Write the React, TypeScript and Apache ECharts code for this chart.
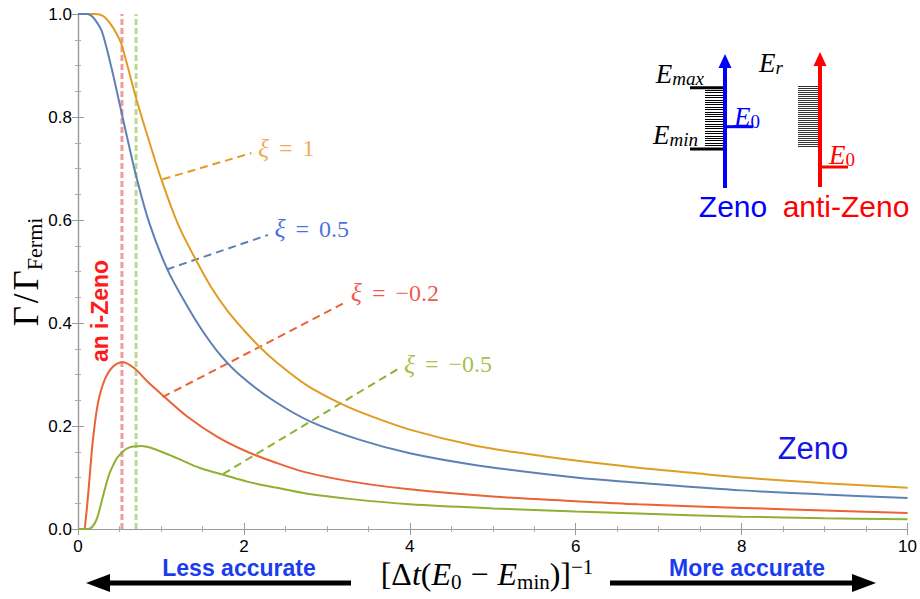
import React, { useEffect, useRef } from "react";
import * as echarts from "echarts";

// ---------- data ----------
const X_MIN = 0;
const X_MAX = 10;
const X_INTERVAL = 2;
const Y_MIN = 0;
const Y_MAX = 1;
const Y_INTERVAL = 0.2;

// Γ/Γ_Fermi for ξ = 1
const CURVE_XI_1: number[][] = [
  [0, 1], [0.1, 1], [0.2, 1], [0.26, 0.999], [0.32, 0.994], [0.4, 0.979], [0.46, 0.963],
  [0.52, 0.943], [0.6, 0.897], [0.7, 0.837], [0.84, 0.762], [1.0, 0.681], [1.2, 0.594],
  [1.4, 0.529], [1.6, 0.471], [1.8, 0.424], [2.0, 0.386], [2.2, 0.352], [2.4, 0.323],
  [2.75, 0.28], [3.15, 0.245], [3.5, 0.221], [4.0, 0.193], [4.75, 0.163], [5.4, 0.146],
  [6.0, 0.133], [6.75, 0.119], [7.4, 0.109], [8.0, 0.1], [9.0, 0.089], [10, 0.08],
];
// ξ = 0.5
const CURVE_XI_05: number[][] = [
  [0, 1], [0.1, 1], [0.15, 0.998], [0.2, 0.99], [0.28, 0.969], [0.34, 0.937], [0.4, 0.898],
  [0.46, 0.856], [0.52, 0.812], [0.6, 0.755], [0.7, 0.686], [0.86, 0.594], [1.08, 0.503],
  [1.32, 0.432], [1.5, 0.385], [1.72, 0.337], [1.95, 0.299], [2.35, 0.25], [2.81, 0.208],
  [3.4, 0.173], [4.0, 0.147], [4.8, 0.124], [6.0, 0.1], [6.75, 0.09], [8.0, 0.075],
  [9.0, 0.067], [10, 0.06],
];
// ξ = -0.2
const CURVE_XI_M02: number[][] = [
  [0, 0], [0.07, 0], [0.09, 0.015], [0.12, 0.063], [0.15, 0.12], [0.18, 0.173], [0.24, 0.244],
  [0.32, 0.289], [0.42, 0.315], [0.54, 0.324], [0.68, 0.312], [0.84, 0.286], [1.04, 0.257],
  [1.32, 0.218], [1.68, 0.179], [2.04, 0.15], [2.4, 0.128], [2.75, 0.11], [3.3, 0.092],
  [4.0, 0.077], [5.0, 0.063], [6.0, 0.054], [6.75, 0.048], [8.0, 0.041], [9.0, 0.036], [10, 0.031],
];
// ξ = -0.5
const CURVE_XI_M05: number[][] = [
  [0, 0], [0.12, 0], [0.17, 0.004], [0.22, 0.017], [0.26, 0.038], [0.3, 0.063], [0.34, 0.087],
  [0.38, 0.108], [0.43, 0.126], [0.48, 0.14], [0.6, 0.157], [0.76, 0.161], [0.96, 0.153],
  [1.2, 0.137], [1.48, 0.118], [1.76, 0.105], [2.04, 0.092], [2.4, 0.08], [2.75, 0.069],
  [3.3, 0.058], [4.0, 0.048], [5.0, 0.04], [6.0, 0.034], [6.75, 0.03], [8.0, 0.024],
  [9.0, 0.021], [10, 0.019],
];

// leader lines (data coordinates) and their labels
const LEADER_XI_1: number[][] = [[1.02, 0.679], [2.09, 0.73]];
const LEADER_XI_05: number[][] = [[1.07, 0.504], [2.29, 0.571]];
const LEADER_XI_M02: number[][] = [[1.02, 0.256], [3.21, 0.439]];
const LEADER_XI_M05: number[][] = [[1.75, 0.107], [3.85, 0.31]];
const XI_VALUES = ["1", "0.5", "−0.2", "−0.5"];

// vertical markers (peak positions)
const MARKER_X = [0.53, 0.7];

// ---------- styles ----------
const CURVE_COLORS = ["#E19C24", "#5E81B5", "#EB6235", "#8FB032"];
const LABEL_COLORS = ["#F0902C", "#1848E0", "#EE2B1B", "#92AE12"];
const MARKER_COLORS = ["#F29A9A", "#BADA92"];
const LABEL_OFFSETS = [[0, -5], [0, -6], [0, -10], [0, -5]];
const SERIF = "'Liberation Serif', 'DejaVu Serif', serif";
const SANS = "'Liberation Sans', Arial, sans-serif";

function hatch(x1: number, x2: number, y1: number, y2: number, step: number, color: string, w: number) {
  const out: any[] = [];
  for (let y = y1; y <= y2; y += step) {
    const yy = Math.round(y) + 0.5;
    out.push({
      type: "line",
      shape: { x1, y1: yy, x2, y2: yy },
      style: { stroke: color, lineWidth: w },
      silent: true,
    });
  }
  return out;
}

function txt(x: number, y: number, text: string, opts: any, rich?: any, rotation = 0) {
  const align = opts.align || "center";
  const va = opts.verticalAlign || "middle";
  return {
    type: "text",
    x,
    y,
    rotation,
    silent: true,
    style: {
      text,
      fill: opts.fill || "#000",
      fontSize: opts.fontSize || 16,
      fontFamily: opts.fontFamily || SANS,
      fontWeight: opts.fontWeight || "normal",
      fontStyle: opts.fontStyle || "normal",
      lineHeight: opts.lineHeight,
      align,
      verticalAlign: va,
      textAlign: align,
      textVerticalAlign: va,
      rich,
    },
  };
}

function eRich(color: string, subItalic: boolean) {
  return {
    e: { fontFamily: SERIF, fontStyle: "italic", fontSize: 27, lineHeight: 28, color },
    s: { fontFamily: SERIF, fontStyle: subItalic ? "italic" : "normal", fontSize: 19, lineHeight: 18, verticalAlign: "bottom", color },
  };
}

export default function App() {
  const ref = useRef<HTMLDivElement>(null);

  useEffect(() => {
    if (!ref.current) return;
    const chart = echarts.init(ref.current, undefined, { renderer: "svg" });

    const curves = [CURVE_XI_1, CURVE_XI_05, CURVE_XI_M02, CURVE_XI_M05];
    const leaders = [LEADER_XI_1, LEADER_XI_05, LEADER_XI_M02, LEADER_XI_M05];

    const axisCommon = {
      axisLine: { show: true, lineStyle: { color: "#999", width: 1.2 } },
      axisTick: { show: true, inside: true, length: 6, lineStyle: { color: "#999", width: 1 } },
      minorTick: { show: true, splitNumber: 4, length: 3, lineStyle: { color: "#aaa", width: 1 } },
      splitLine: { show: false },
    };

    const series: any[] = [];
    MARKER_X.forEach((mx, i) => {
      series.push({
        type: "line",
        data: [[mx, Y_MIN], [mx, Y_MAX]],
        symbol: "none",
        z: 1,
        silent: true,
        lineStyle: { color: MARKER_COLORS[i], width: 3, type: [6, 3] },
      });
    });
    leaders.forEach((ld, i) => {
      series.push({
        type: "line",
        data: ld,
        symbol: "none",
        z: 2,
        silent: true,
        lineStyle: { color: CURVE_COLORS[i], width: 2, type: [8, 5] },
      });
      series.push({
        type: "scatter",
        data: [ld[1]],
        symbolSize: 1,
        z: 4,
        silent: true,
        itemStyle: { color: "rgba(0,0,0,0)" },
        label: {
          show: true,
          position: "right",
          distance: 6,
          offset: LABEL_OFFSETS[i],
          formatter: "{i|ξ}{e|=}{n|" + XI_VALUES[i] + "}",
          rich: {
            i: { fontFamily: SERIF, fontStyle: "italic", fontSize: 26, color: LABEL_COLORS[i] },
            e: { fontFamily: SERIF, fontSize: 24, color: LABEL_COLORS[i], padding: [0, 10, 0, 10] },
            n: { fontFamily: SERIF, fontSize: 24, color: LABEL_COLORS[i] },
          },
        },
      });
    });
    curves.forEach((c, i) => {
      series.push({
        type: "line",
        data: c,
        symbol: "none",
        smooth: 0.35,
        z: 3,
        silent: true,
        lineStyle: { color: CURVE_COLORS[i], width: 2 },
      });
    });

    const graphicEls: any[] = [
      // y-axis title
      txt(26, 272, "{g|Γ}{n|/}{g|Γ}{s|Fermi}", { fontFamily: SERIF, fontSize: 34 }, {
        g: { fontFamily: SERIF, fontSize: 35, lineHeight: 38, verticalAlign: "middle" },
        n: { fontFamily: SERIF, fontSize: 35, lineHeight: 38, verticalAlign: "middle", padding: [0, 3, 0, 3] },
        s: { fontFamily: SERIF, fontSize: 22, lineHeight: 24, verticalAlign: "bottom" },
      }, Math.PI / 2),
      // an i-Zeno
      txt(100, 311, "an i-Zeno", { fill: "#FF1A1A", fontSize: 23, fontWeight: "bold" }, undefined, Math.PI / 2),
      // x-axis title
      txt(487, 574, "{n|[Δ}{i|t}{n|(}{i|E}{s|0}{m|−}{i|E}{s|min}{n|)]}{p|−1}", { fontFamily: SERIF, fontSize: 32 }, {
        n: { fontFamily: SERIF, fontSize: 32, lineHeight: 36 },
        m: { fontFamily: SERIF, fontSize: 32, lineHeight: 36, padding: [0, 9, 0, 9] },
        i: { fontFamily: SERIF, fontSize: 32, fontStyle: "italic", lineHeight: 36 },
        s: { fontFamily: SERIF, fontSize: 21, lineHeight: 24, verticalAlign: "bottom" },
        p: { fontFamily: SERIF, fontSize: 21, lineHeight: 24, verticalAlign: "top" },
      }),
      // bottom arrows
      { type: "rect", silent: true, shape: { x: 106, y: 580.5, width: 245, height: 5 }, style: { fill: "#000" } },
      { type: "polygon", silent: true, shape: { points: [[86, 583], [110, 574], [110, 592]] }, style: { fill: "#000" } },
      { type: "rect", silent: true, shape: { x: 610, y: 580.5, width: 245, height: 5 }, style: { fill: "#000" } },
      { type: "polygon", silent: true, shape: { points: [[876, 583], [852, 574], [852, 592]] }, style: { fill: "#000" } },
      txt(239, 568, "Less accurate", { fill: "#1A3CF0", fontSize: 23, fontWeight: "bold", lineHeight: 20 }),
      txt(747, 568, "More accurate", { fill: "#1A3CF0", fontSize: 23, fontWeight: "bold", lineHeight: 20 }),
      // Zeno in plot
      txt(813, 448, "Zeno", { fill: "#1515E6", fontSize: 31 }),
      // inset: Zeno scheme
      ...hatch(705, 723, 90, 147, 2.4, "#000", 1),
      { type: "line", silent: true, shape: { x1: 690, y1: 87.7, x2: 724, y2: 87.7 }, style: { stroke: "#000", lineWidth: 3 } },
      { type: "line", silent: true, shape: { x1: 690, y1: 149, x2: 724, y2: 149 }, style: { stroke: "#000", lineWidth: 3 } },
      { type: "line", silent: true, shape: { x1: 725, y1: 188, x2: 725, y2: 64 }, style: { stroke: "#0000FF", lineWidth: 4 } },
      { type: "polygon", silent: true, shape: { points: [[718.5, 68], [731.5, 68], [725, 54]] }, style: { fill: "#0000FF" } },
      { type: "line", silent: true, shape: { x1: 725, y1: 126.7, x2: 753, y2: 126.7 }, style: { stroke: "#0000FF", lineWidth: 3 } },
      txt(704, 74, "{e|E}{s|max}", { fontFamily: SERIF, align: "right" }, eRich("#000", true)),
      txt(698, 135, "{e|E}{s|min}", { fontFamily: SERIF, align: "right" }, eRich("#000", true)),
      txt(734, 117, "{e|E}{s|0}", { fontFamily: SERIF, align: "left", fill: "#0000FF" }, eRich("#0000FF", false)),
      txt(733, 206, "Zeno", { fill: "#0000FF", fontSize: 30 }),
      // inset: anti-Zeno scheme
      ...hatch(798, 818, 86, 147, 2, "#333", 1),
      { type: "line", silent: true, shape: { x1: 820, y1: 187, x2: 820, y2: 62 }, style: { stroke: "#FF0000", lineWidth: 4 } },
      { type: "polygon", silent: true, shape: { points: [[813.5, 66], [826.5, 66], [820, 52]] }, style: { fill: "#FF0000" } },
      { type: "line", silent: true, shape: { x1: 820, y1: 167, x2: 848, y2: 167 }, style: { stroke: "#FF0000", lineWidth: 3 } },
      txt(759, 63, "{e|E}{s|r}", { fontFamily: SERIF, align: "left" }, eRich("#000", true)),
      txt(829, 155, "{e|E}{s|0}", { fontFamily: SERIF, align: "left", fill: "#FF0000" }, eRich("#FF0000", false)),
      txt(846, 206, "anti-Zeno", { fill: "#FF0000", fontSize: 30 }),
    ];

    chart.setOption({
      animation: false,
      backgroundColor: "#fff",
      grid: { left: 78, right: 9, top: 14, bottom: 70, containLabel: false },
      xAxis: [
        {
          type: "value",
          min: X_MIN,
          max: X_MAX,
          interval: X_INTERVAL,
          position: "bottom",
          ...axisCommon,
          axisLabel: { show: true, margin: 10, fontSize: 17, lineHeight: 14, fontFamily: SANS, color: "#000", formatter: (v: number) => String(v) },
        },
        {
          type: "value",
          min: X_MIN,
          max: X_MAX,
          interval: X_INTERVAL,
          position: "top",
          ...axisCommon,
          axisLabel: { show: false },
        },
      ],
      yAxis: [
        {
          type: "value",
          min: Y_MIN,
          max: Y_MAX,
          interval: Y_INTERVAL,
          position: "left",
          ...axisCommon,
          axisLabel: { show: true, margin: 6, fontSize: 17, fontFamily: SANS, color: "#000", formatter: (v: number) => v.toFixed(1) },
        },
        {
          type: "value",
          min: Y_MIN,
          max: Y_MAX,
          interval: Y_INTERVAL,
          position: "right",
          ...axisCommon,
          axisLabel: { show: false },
        },
      ],
      series,
      graphic: { elements: graphicEls },
    });

    return () => chart.dispose();
  }, []);

  return (
    <div
      ref={ref}
      style={{ position: "fixed", left: 0, top: 0, width: 920, height: 599, background: "#fff" }}
    />
  );
}
